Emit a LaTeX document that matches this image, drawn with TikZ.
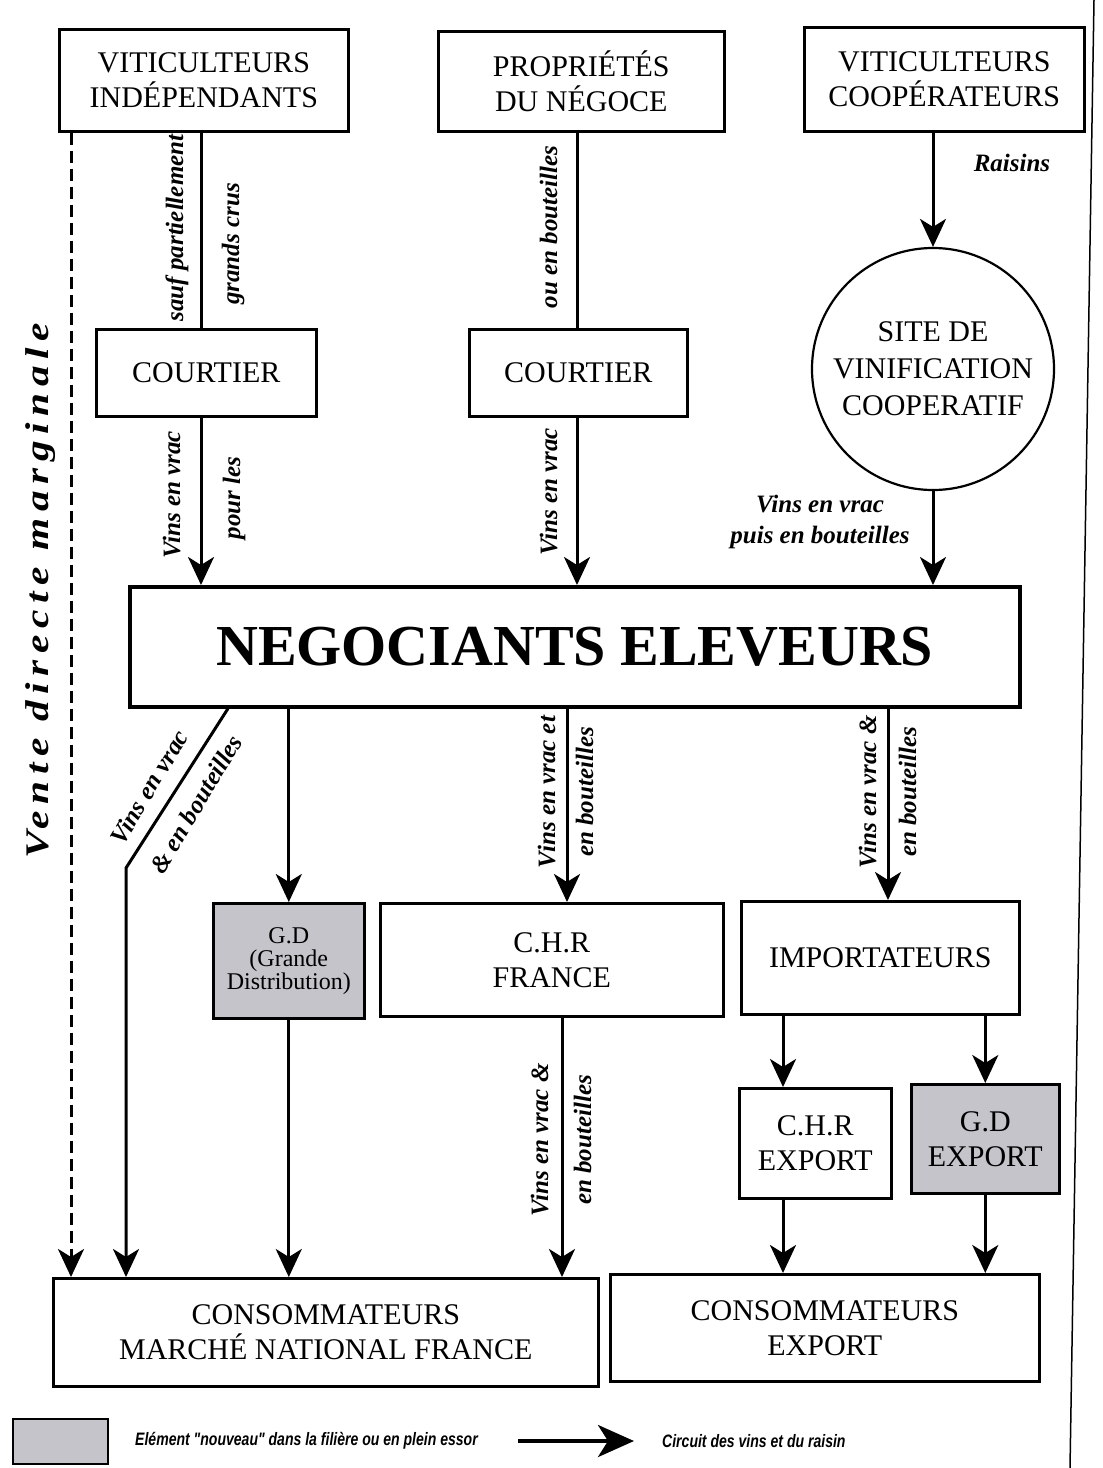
\documentclass[tikz,border=0pt]{standalone}
\usepackage{fontspec}
\setmainfont{Liberation Serif}
\newfontfamily\legfont[FakeStretch=0.78]{Liberation Sans}
\newfontfamily\vdfont[FakeStretch=1.25,LetterSpace=20]{Liberation Serif}
\usetikzlibrary{arrows.meta,calc}
\definecolor{newgray}{RGB}{196,196,202}
\tikzset{
  box/.style={draw, line width=2.6pt, align=center, inner sep=0pt, anchor=north west, font=\fontsize{30}{35}\selectfont},
  newbox/.style={box, fill=newgray},
  conn/.style={line width=3pt},
  arr/.style={conn, -{Stealth[length=28pt,width=26pt,inset=8pt]}},
  lab/.style={font=\fontsize{25}{31}\selectfont\bfseries\itshape, inner sep=0pt},
  vlab/.style={lab, rotate=90, anchor=base},
}
\begin{document}
\begin{tikzpicture}[x=1pt,y=-1pt]
\useasboundingbox (0,0) rectangle (1103,1468);
% boxes
\node[box, minimum width=289pt, minimum height=102pt] (vi) at (58,28) {VITICULTEURS\\INDÉPENDANTS};
\node[box, minimum width=286pt, minimum height=100pt] (pn) at (437,30) {PROPRIÉTÉS\\DU NÉGOCE};
\node[box, minimum width=280pt, minimum height=104pt] (vc) at (803,26) {VITICULTEURS\\COOPÉRATEURS};
\node[box, minimum width=220pt, minimum height=87pt] (c1) at (95,328) {COURTIER};
\node[box, minimum width=218pt, minimum height=87pt] (c2) at (468,328) {COURTIER};
\node[draw, circle, line width=2.2pt, minimum size=242pt, inner sep=0pt, align=center, font=\fontsize{30}{37}\selectfont] (site) at (933,369) {SITE DE\\VINIFICATION\\COOPERATIF};
\node[box, line width=3.5pt, minimum width=890pt, minimum height=120pt, font=\fontsize{58}{60}\selectfont\bfseries] (neg) at (128,585) {NEGOCIANTS ELEVEURS};
\node[newbox, minimum width=151pt, minimum height=115pt, font=\fontsize{24}{23}\selectfont] (gd) at (212,902) {G.D\\(Grande\\Distribution)};
\node[box, minimum width=343pt, minimum height=113pt] (chrf) at (379,902) {C.H.R\\FRANCE};
\node[box, minimum width=278pt, minimum height=113pt] (imp) at (740,900) {IMPORTATEURS};
\node[box, minimum width=152pt, minimum height=110pt] (chre) at (738,1087) {C.H.R\\EXPORT};
\node[newbox, minimum width=148pt, minimum height=109pt] (gde) at (910,1083) {G.D\\EXPORT};
\node[box, minimum width=545pt, minimum height=108pt] (cf) at (52,1277) {CONSOMMATEURS\\MARCHÉ NATIONAL FRANCE};
\node[box, minimum width=429pt, minimum height=107pt] (ce) at (609,1273) {CONSOMMATEURS\\EXPORT};
% x positions
\coordinate (xd) at (71,0);
\coordinate (x1) at (201,0);
\coordinate (x2) at (577,0);
\coordinate (xdiag) at (228,0);
\coordinate (bend) at (126,868);
\coordinate (xchr) at (567,0);
\coordinate (ximp) at (888,0);
\coordinate (xchr2) at (562,0);
\coordinate (xce1) at (783,0);
% connectors
\draw[arr, dash pattern=on 12pt off 6pt] (vi.south -| xd) -- (cf.north -| xd);
\draw[conn] (vi.south -| x1) -- (c1.north -| x1);
\draw[arr] (c1.south -| x1) -- (neg.north -| x1);
\draw[conn] (pn.south -| x2) -- (c2.north -| x2);
\draw[arr] (c2.south -| x2) -- (neg.north -| x2);
\draw[arr] (vc.south -| site.north) -- (site.north);
\draw[arr] (site.south) -- (site.south |- neg.north);
\draw[arr] (neg.south -| xdiag) -- (bend) -- (bend |- cf.north);
\draw[arr] (neg.south -| gd.north) -- (gd.north);
\draw[arr] (neg.south -| xchr) -- (chrf.north -| xchr);
\draw[arr] (neg.south -| ximp) -- (imp.north -| ximp);
\draw[arr] (gd.south) -- (gd.south |- cf.north);
\draw[arr] (chrf.south -| xchr2) -- (cf.north -| xchr2);
\draw[arr] (imp.south -| xce1) -- (chre.north -| xce1);
\draw[arr] (imp.south -| gde.north) -- (gde.north);
\draw[arr] (chre.south -| xce1) -- (ce.north -| xce1);
\draw[arr] (gde.south) -- (gde.south |- ce.north);
% labels
\node[vlab] (l1) at (183,228) {sauf partiellement};
\node[vlab] (l2) at (239,244) {grands crus};
\node[vlab] (l3) at (180,495) {Vins en vrac};
\node[vlab] (l4) at (240,498) {pour les};
\node[vlab] (l5) at (557,227) {ou en bouteilles};
\node[vlab] (l6) at (557,492) {Vins en vrac};
\node[vlab] (l7) at (555,792) {Vins en vrac et};
\node[vlab] (l8) at (593,792) {en bouteilles};
\node[vlab] (l9) at (876,792) {Vins en vrac \&};
\node[vlab] (l10) at (916,792) {en bouteilles};
\node[vlab] (l11) at (548,1140) {Vins en vrac \&};
\node[vlab] (l12) at (591,1140) {en bouteilles};
\node[lab, rotate=59] (l13) at (149,787) {Vins en vrac};
\node[lab, rotate=59] (l14) at (196,804) {\& en bouteilles};
\node[lab] (l15) at (1012,163) {Raisins};
\node[lab, align=center] (l16) at (820,522) {Vins en vrac\\puis en bouteilles};
\node[font=\vdfont\fontsize{33}{36}\selectfont\bfseries\itshape, rotate=90, inner sep=0pt] (vd) at (41,591) {Vente directe marginale};
% legend
\node[draw, line width=2pt, fill=newgray, minimum width=95pt, minimum height=45pt, anchor=north west, inner sep=0pt] (lg) at (12,1418) {};
\node[anchor=west, inner sep=0pt, font=\legfont\fontsize{18}{20}\selectfont\bfseries\itshape] (lt) at (135,1441) {Elément "nouveau" dans la filière ou en plein essor};
\coordinate (la) at (518,1441);
\coordinate (lb) at (634,1441);
\draw[line width=4pt, -{Stealth[length=36pt,width=32pt,inset=10pt]}] (la) -- (lb);
\node[anchor=west, inner sep=0pt, font=\legfont\fontsize{18}{20}\selectfont\bfseries\itshape] (lc) at (662,1441) {Circuit des vins et du raisin};
% page edge
\coordinate (pe1) at (1094,0);
\coordinate (pe2) at (1070,1468);
\draw[line width=1.5pt] (pe1) -- (pe2);
\end{tikzpicture}
\end{document}
